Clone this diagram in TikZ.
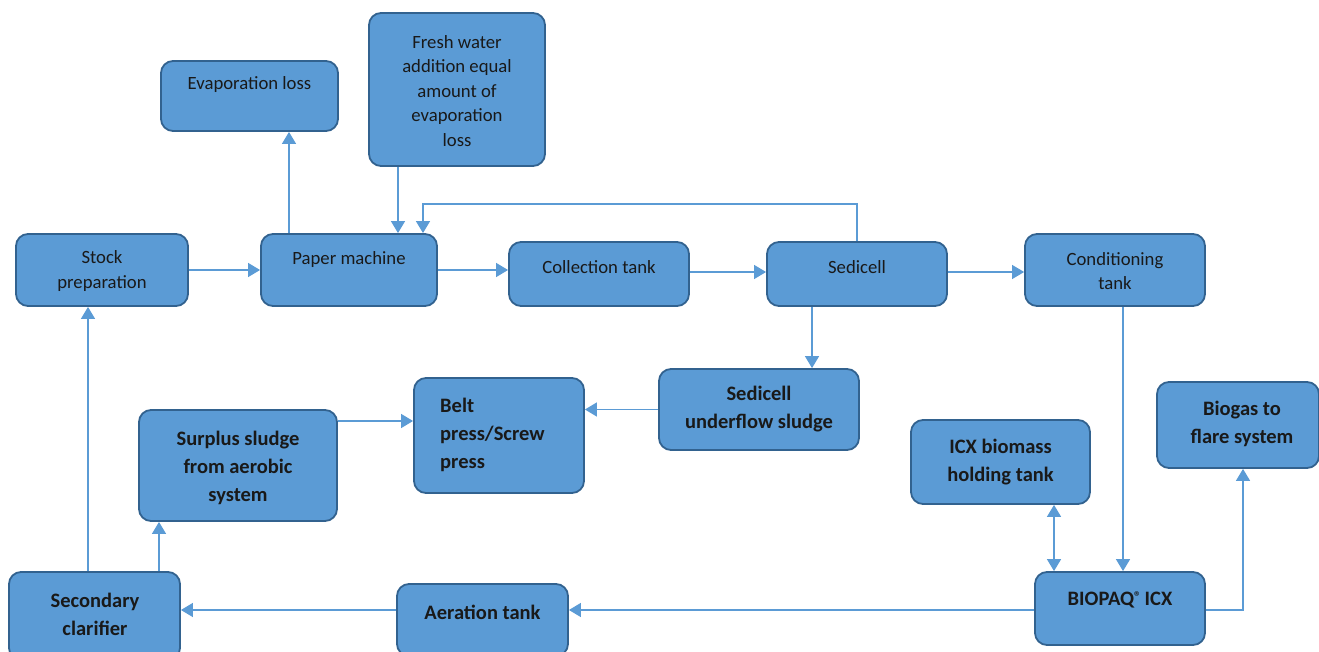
\documentclass[tikz,border=0pt]{standalone}
\usepackage{fontspec}
\setmainfont{Carlito}
\usetikzlibrary{arrows.meta,calc}
\definecolor{boxfill}{HTML}{5B9BD5}
\definecolor{boxline}{HTML}{32628F}
\definecolor{conn}{HTML}{5B9BD5}
\begin{document}
\begin{tikzpicture}[x=1pt,y=-1pt,
  box/.style={draw=boxline,fill=boxfill,line width=1.8pt,rounded corners=12pt,inner sep=0pt},
  txt/.style={align=center,inner sep=0pt,font=\fontsize{18.7}{24.5}\selectfont,text=black!90},
  btxt/.style={align=center,inner sep=0pt,font=\fontsize{20.5}{28}\selectfont\bfseries,text=black!90},
  flow/.style={draw=conn,line width=1.4pt,-{Triangle[length=12pt,width=14pt]}},
  flow2/.style={draw=conn,line width=1.4pt,{Triangle[length=12pt,width=14pt]}-{Triangle[length=12pt,width=14pt]}},
  line/.style={draw=conn,line width=1.4pt}]
\useasboundingbox (0,0) rectangle (1319,652);
% boxes
\node[box,minimum width=177pt,minimum height=70pt] (evap) at (249.5,96) {};
\node[box,minimum width=176pt,minimum height=153pt] (fresh) at (457,89.5) {};
\node[box,minimum width=172pt,minimum height=72pt] (stock) at (102,270) {};
\node[box,minimum width=176pt,minimum height=72pt] (paper) at (349,270) {};
\node[box,minimum width=180pt,minimum height=64pt] (coll) at (599,274) {};
\node[box,minimum width=180pt,minimum height=64pt] (sedi) at (857,274) {};
\node[box,minimum width=180pt,minimum height=72pt] (cond) at (1115,270) {};
\node[box,minimum width=200pt,minimum height=81pt] (under) at (759,409.5) {};
\node[box,minimum width=170pt,minimum height=115pt] (belt) at (499,435.5) {};
\node[box,minimum width=198pt,minimum height=111pt] (surplus) at (238,465.5) {};
\node[box,minimum width=179pt,minimum height=84pt] (icxb) at (1000.5,462) {};
\node[box,minimum width=162pt,minimum height=86pt] (biogas) at (1238,425) {};
\node[box,minimum width=171pt,minimum height=88pt] (sec) at (94.5,616) {};
\node[box,minimum width=171pt,minimum height=72pt] (aer) at (482.5,620) {};
\node[box,minimum width=170pt,minimum height=73pt] (biopaq) at (1120,608.5) {};
% texts
\node[txt] (evap-t) at (249.5,85) {Evaporation loss};
\node[txt] (fresh-t) at (457,91) {Fresh water\\addition equal\\amount of\\evaporation\\loss};
\node[txt] (stock-t) at (102,271) {Stock\\preparation};
\node[txt] (paper-t) at (349,260) {Paper machine};
\node[txt] (coll-t) at (599,267) {Collection tank};
\node[txt] (sedi-t) at (857,267) {Sedicell};
\node[txt] (cond-t) at (1115,271) {Conditioning\\tank};
\node[btxt] (under-t) at (759,409) {Sedicell\\underflow sludge};
\node[btxt,align=left,anchor=west] (belt-t) at (440,435) {Belt\\press/Screw\\press};
\node[btxt] (surplus-t) at (238,468) {Surplus sludge\\from aerobic\\system};
\node[btxt] (icxb-t) at (1000.5,462) {ICX biomass\\holding tank};
\node[btxt] (biogas-t) at (1242,424) {Biogas to\\flare system};
\node[btxt] (sec-t) at (95,614) {Secondary\\clarifier};
\node[btxt] (aer-t) at (482.5,612) {Aeration tank};
\node[btxt] (biopaq-t) at (1120,600) {BIOPAQ\raisebox{0.45ex}{\fontsize{14}{14}\selectfont ®}\,ICX};
% connectors
\draw[flow] (stock.east) -- (paper.west);
\draw[flow] ([xshift=-60pt]paper.north) -- ([xshift=-60pt]paper.north |- evap.south);
\draw[flow] ([xshift=-59pt]fresh.south) -- ([xshift=-59pt]fresh.south |- paper.north);
\draw[flow] (sedi.north) -- ++(0,-37) -| ([xshift=74pt]paper.north);
\draw[flow] (paper.east) -- (paper.east -| coll.west);
\draw[flow] ([yshift=2pt]coll.east) -- ([yshift=2pt]sedi.west);
\draw[flow] ([yshift=2pt]sedi.east) -- ([yshift=2pt]sedi.east -| cond.west);
\draw[flow] ([xshift=-45pt]sedi.south) -- ([xshift=-45pt]sedi.south |- under.north);
\draw[flow] (under.west) -- (under.west -| belt.east);
\draw[flow] ([yshift=44.5pt]surplus.east) -- ([yshift=44.5pt]surplus.east -| belt.west);
\draw[flow] ([xshift=8pt]cond.south) -- ([xshift=8pt]cond.south |- biopaq.north);
\draw[flow2] ([xshift=53.5pt]icxb.south) -- ([xshift=53.5pt]icxb.south |- biopaq.north);
\draw[flow] ([yshift=-1.5pt]biopaq.east) -| ([xshift=5pt]biogas.south);
\draw[flow] ([yshift=-1.5pt]biopaq.west) -- ([yshift=-1.5pt]biopaq.west -| aer.east);
\draw[flow] ([yshift=10pt]aer.west) -- ([yshift=10pt]aer.west -| sec.east);
\draw[flow] ([xshift=64.5pt]sec.north) -- ([xshift=64.5pt]sec.north |- surplus.south);
\draw[flow] ([xshift=-6.5pt]sec.north) -- ([xshift=-6.5pt]sec.north |- stock.south);
\end{tikzpicture}
\end{document}
